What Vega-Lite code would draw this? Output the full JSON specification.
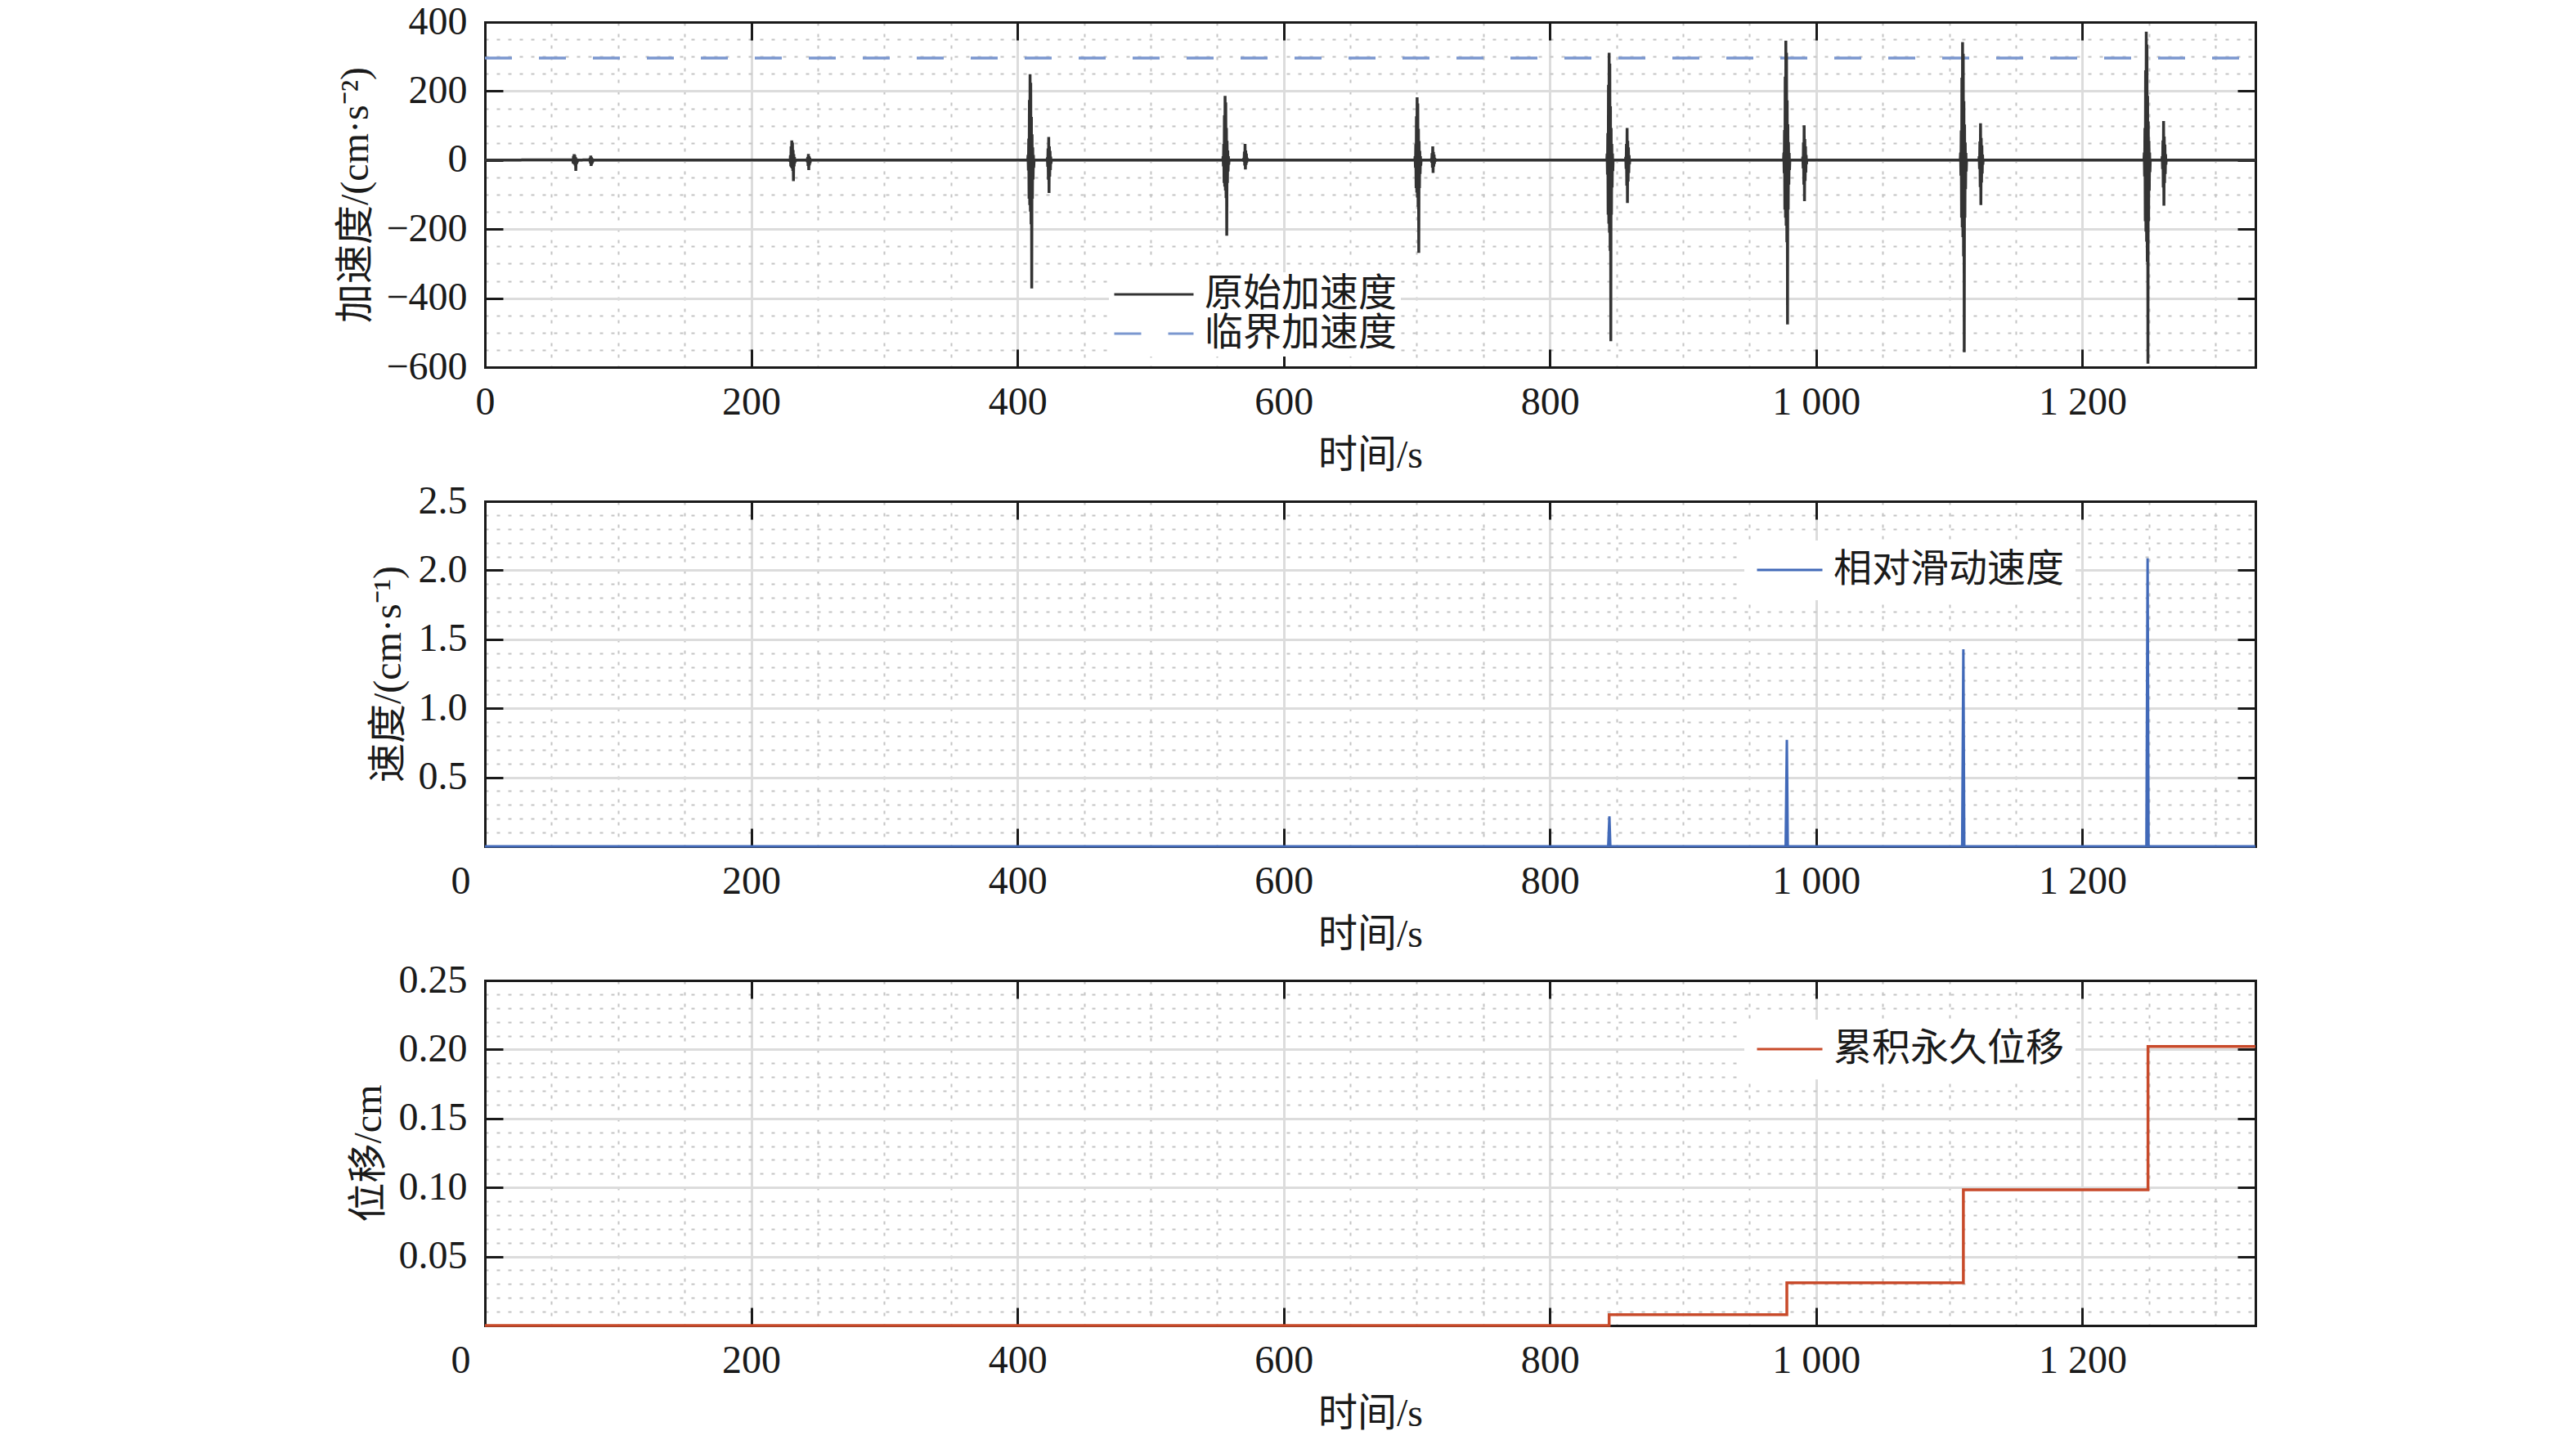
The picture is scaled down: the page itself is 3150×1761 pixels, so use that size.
{
  "$schema": "https://vega.github.io/schema/vega-lite/v6.json",
  "padding": {"left": 411, "top": 3, "right": 0, "bottom": 0},
  "background": "white",
  "datasets": {
    "thr": [{"t": 0, "a": 296}, {"t": 1330, "a": 296}],
    "acc": [
      {"t": 0, "a": 0},
      {"t": 65.5, "a": 1}, {"t": 65.75, "a": -2}, {"t": 66, "a": 4}, {"t": 66.25, "a": -9}, {"t": 66.5, "a": 12}, {"t": 66.75, "a": -11}, {"t": 67, "a": 17}, {"t": 67.25, "a": -12}, {"t": 67.5, "a": 15}, {"t": 67.75, "a": -16}, {"t": 68, "a": 9}, {"t": 68.25, "a": -31}, {"t": 68.5, "a": 5}, {"t": 68.75, "a": -9}, {"t": 69, "a": 3}, {"t": 69.25, "a": -5}, {"t": 69.5, "a": 1}, {"t": 69.75, "a": -2}, {"t": 70, "a": 0},
      {"t": 78.5, "a": 1}, {"t": 78.75, "a": -3}, {"t": 79, "a": 7}, {"t": 79.25, "a": -10}, {"t": 79.5, "a": 13}, {"t": 79.75, "a": -17}, {"t": 80, "a": 8}, {"t": 80.25, "a": -9}, {"t": 80.5, "a": 5}, {"t": 80.75, "a": -5}, {"t": 81, "a": 2}, {"t": 81.25, "a": -2}, {"t": 81.5, "a": 0},
      {"t": 228.75, "a": 0}, {"t": 229, "a": 3}, {"t": 229.25, "a": -5}, {"t": 229.5, "a": 14}, {"t": 229.75, "a": -18}, {"t": 230, "a": 40}, {"t": 230.25, "a": -21}, {"t": 230.5, "a": 57}, {"t": 230.75, "a": -24}, {"t": 231, "a": 51}, {"t": 231.25, "a": -31}, {"t": 231.5, "a": 29}, {"t": 231.75, "a": -61}, {"t": 232, "a": 17}, {"t": 232.25, "a": -18}, {"t": 232.5, "a": 9}, {"t": 232.75, "a": -9}, {"t": 233, "a": 3}, {"t": 233.25, "a": -4}, {"t": 233.5, "a": 0},
      {"t": 241.75, "a": 0}, {"t": 242, "a": 2}, {"t": 242.25, "a": -6}, {"t": 242.5, "a": 9}, {"t": 242.75, "a": -17}, {"t": 243, "a": 18}, {"t": 243.25, "a": -29}, {"t": 243.5, "a": 11}, {"t": 243.75, "a": -15}, {"t": 244, "a": 7}, {"t": 244.25, "a": -9}, {"t": 244.5, "a": 3}, {"t": 244.75, "a": -3}, {"t": 245, "a": 0},
      {"t": 407.75, "a": 0}, {"t": 408, "a": 15}, {"t": 408.25, "a": -30}, {"t": 408.5, "a": 62}, {"t": 408.75, "a": -112}, {"t": 409, "a": 174}, {"t": 409.25, "a": -130}, {"t": 409.5, "a": 249}, {"t": 409.75, "a": -149}, {"t": 410, "a": 224}, {"t": 410.25, "a": -186}, {"t": 410.5, "a": 125}, {"t": 410.75, "a": -372}, {"t": 411, "a": 75}, {"t": 411.25, "a": -112}, {"t": 411.5, "a": 37}, {"t": 411.75, "a": -56}, {"t": 412, "a": 15}, {"t": 412.25, "a": -22}, {"t": 412.5, "a": 0},
      {"t": 422.25, "a": 0}, {"t": 422.5, "a": 7}, {"t": 422.75, "a": -19}, {"t": 423, "a": 34}, {"t": 423.25, "a": -57}, {"t": 423.5, "a": 67}, {"t": 423.75, "a": -95}, {"t": 424, "a": 40}, {"t": 424.25, "a": -48}, {"t": 424.5, "a": 27}, {"t": 424.75, "a": -29}, {"t": 425, "a": 10}, {"t": 425.25, "a": -10}, {"t": 425.5, "a": 0},
      {"t": 554.25, "a": 0}, {"t": 554.5, "a": 11}, {"t": 554.75, "a": -18}, {"t": 555, "a": 47}, {"t": 555.25, "a": -66}, {"t": 555.5, "a": 130}, {"t": 555.75, "a": -77}, {"t": 556, "a": 186}, {"t": 556.25, "a": -88}, {"t": 556.5, "a": 167}, {"t": 556.75, "a": -110}, {"t": 557, "a": 93}, {"t": 557.25, "a": -219}, {"t": 557.5, "a": 56}, {"t": 557.75, "a": -66}, {"t": 558, "a": 28}, {"t": 558.25, "a": -33}, {"t": 558.5, "a": 11}, {"t": 558.75, "a": -13}, {"t": 559, "a": 0},
      {"t": 569.75, "a": 0}, {"t": 570, "a": 5}, {"t": 570.25, "a": -5}, {"t": 570.5, "a": 24}, {"t": 570.75, "a": -16}, {"t": 571, "a": 47}, {"t": 571.25, "a": -27}, {"t": 571.5, "a": 28}, {"t": 571.75, "a": -14}, {"t": 572, "a": 19}, {"t": 572.25, "a": -8}, {"t": 572.5, "a": 7}, {"t": 572.75, "a": -3}, {"t": 573, "a": 0},
      {"t": 698.5, "a": 0}, {"t": 698.75, "a": 11}, {"t": 699, "a": -22}, {"t": 699.25, "a": 46}, {"t": 699.5, "a": -81}, {"t": 699.75, "a": 127}, {"t": 700, "a": -94}, {"t": 700.25, "a": 182}, {"t": 700.5, "a": -108}, {"t": 700.75, "a": 164}, {"t": 701, "a": -135}, {"t": 701.25, "a": 91}, {"t": 701.5, "a": -269}, {"t": 701.75, "a": 55}, {"t": 702, "a": -81}, {"t": 702.25, "a": 27}, {"t": 702.5, "a": -40}, {"t": 702.75, "a": 11}, {"t": 703, "a": -16}, {"t": 703.25, "a": 0},
      {"t": 710.75, "a": 0}, {"t": 711, "a": 4}, {"t": 711.25, "a": -7}, {"t": 711.5, "a": 20}, {"t": 711.75, "a": -22}, {"t": 712, "a": 40}, {"t": 712.25, "a": -37}, {"t": 712.5, "a": 24}, {"t": 712.75, "a": -19}, {"t": 713, "a": 16}, {"t": 713.25, "a": -11}, {"t": 713.5, "a": 6}, {"t": 713.75, "a": -4}, {"t": 714, "a": 0},
      {"t": 842.75, "a": 0}, {"t": 843, "a": 19}, {"t": 843.25, "a": -42}, {"t": 843.5, "a": 78}, {"t": 843.75, "a": -158}, {"t": 844, "a": 218}, {"t": 844.25, "a": -184}, {"t": 844.5, "a": 311}, {"t": 844.75, "a": -210}, {"t": 845, "a": 280}, {"t": 845.25, "a": -263}, {"t": 845.5, "a": 156}, {"t": 845.75, "a": -525}, {"t": 846, "a": 93}, {"t": 846.25, "a": -158}, {"t": 846.5, "a": 47}, {"t": 846.75, "a": -79}, {"t": 847, "a": 19}, {"t": 847.25, "a": -32}, {"t": 847.5, "a": 0},
      {"t": 856.75, "a": 0}, {"t": 857, "a": 9}, {"t": 857.25, "a": -25}, {"t": 857.5, "a": 47}, {"t": 857.75, "a": -74}, {"t": 858, "a": 93}, {"t": 858.25, "a": -124}, {"t": 858.5, "a": 56}, {"t": 858.75, "a": -62}, {"t": 859, "a": 37}, {"t": 859.25, "a": -37}, {"t": 859.5, "a": 14}, {"t": 859.75, "a": -12}, {"t": 860, "a": 0},
      {"t": 975.5, "a": 0}, {"t": 975.75, "a": 21}, {"t": 976, "a": -38}, {"t": 976.25, "a": 87}, {"t": 976.5, "a": -143}, {"t": 976.75, "a": 242}, {"t": 977, "a": -167}, {"t": 977.25, "a": 346}, {"t": 977.5, "a": -190}, {"t": 977.75, "a": 311}, {"t": 978, "a": -238}, {"t": 978.25, "a": 173}, {"t": 978.5, "a": -476}, {"t": 978.75, "a": 104}, {"t": 979, "a": -143}, {"t": 979.25, "a": 52}, {"t": 979.5, "a": -71}, {"t": 979.75, "a": 21}, {"t": 980, "a": -29}, {"t": 980.25, "a": 0},
      {"t": 989.75, "a": 0}, {"t": 990, "a": 10}, {"t": 990.25, "a": -24}, {"t": 990.5, "a": 51}, {"t": 990.75, "a": -71}, {"t": 991, "a": 101}, {"t": 991.25, "a": -119}, {"t": 991.5, "a": 61}, {"t": 991.75, "a": -60}, {"t": 992, "a": 40}, {"t": 992.25, "a": -36}, {"t": 992.5, "a": 15}, {"t": 992.75, "a": -12}, {"t": 993, "a": 0},
      {"t": 1108.25, "a": 0}, {"t": 1108.5, "a": 21}, {"t": 1108.75, "a": -45}, {"t": 1109, "a": 86}, {"t": 1109.25, "a": -167}, {"t": 1109.5, "a": 239}, {"t": 1109.75, "a": -195}, {"t": 1110, "a": 342}, {"t": 1110.25, "a": -223}, {"t": 1110.5, "a": 308}, {"t": 1110.75, "a": -279}, {"t": 1111, "a": 171}, {"t": 1111.25, "a": -557}, {"t": 1111.5, "a": 103}, {"t": 1111.75, "a": -167}, {"t": 1112, "a": 51}, {"t": 1112.25, "a": -84}, {"t": 1112.5, "a": 21}, {"t": 1112.75, "a": -33}, {"t": 1113, "a": 0},
      {"t": 1122.25, "a": 0}, {"t": 1122.5, "a": 11}, {"t": 1122.75, "a": -26}, {"t": 1123, "a": 54}, {"t": 1123.25, "a": -78}, {"t": 1123.5, "a": 107}, {"t": 1123.75, "a": -130}, {"t": 1124, "a": 64}, {"t": 1124.25, "a": -65}, {"t": 1124.5, "a": 43}, {"t": 1124.75, "a": -39}, {"t": 1125, "a": 16}, {"t": 1125.25, "a": -13}, {"t": 1125.5, "a": 0},
      {"t": 1246.25, "a": 0}, {"t": 1246.5, "a": 22}, {"t": 1246.75, "a": -47}, {"t": 1247, "a": 93}, {"t": 1247.25, "a": -177}, {"t": 1247.5, "a": 260}, {"t": 1247.75, "a": -207}, {"t": 1248, "a": 372}, {"t": 1248.25, "a": -236}, {"t": 1248.5, "a": 335}, {"t": 1248.75, "a": -295}, {"t": 1249, "a": 186}, {"t": 1249.25, "a": -590}, {"t": 1249.5, "a": 112}, {"t": 1249.75, "a": -177}, {"t": 1250, "a": 56}, {"t": 1250.25, "a": -89}, {"t": 1250.5, "a": 22}, {"t": 1250.75, "a": -35}, {"t": 1251, "a": 0},
      {"t": 1259.75, "a": 0}, {"t": 1260, "a": 11}, {"t": 1260.25, "a": -26}, {"t": 1260.5, "a": 57}, {"t": 1260.75, "a": -79}, {"t": 1261, "a": 113}, {"t": 1261.25, "a": -132}, {"t": 1261.5, "a": 68}, {"t": 1261.75, "a": -66}, {"t": 1262, "a": 45}, {"t": 1262.25, "a": -40}, {"t": 1262.5, "a": 17}, {"t": 1262.75, "a": -13}, {"t": 1263, "a": 0},
      {"t": 1330, "a": 0}
    ],
    "vel": [
      {"t": 0, "v": 0}, {"t": 843.8, "v": 0}, {"t": 844.7, "v": 0.217}, {"t": 845.4, "v": 0},
      {"t": 977.1, "v": 0}, {"t": 978, "v": 0.772}, {"t": 978.7, "v": 0},
      {"t": 1109.7, "v": 0}, {"t": 1110.6, "v": 1.427}, {"t": 1111.3, "v": 0},
      {"t": 1248.1, "v": 0}, {"t": 1249, "v": 2.087}, {"t": 1249.7, "v": 0},
      {"t": 1330, "v": 0}
    ],
    "disp": [
      {"t": 0, "d": 0}, {"t": 844.5, "d": 0.0079}, {"t": 978, "d": 0.0309},
      {"t": 1110.6, "d": 0.0984}, {"t": 1249.3, "d": 0.2022}, {"t": 1330, "d": 0.2022}
    ]
  },
  "spacing": 8,
  "resolve": {
    "scale": {"color": "independent", "strokeDash": "independent"},
    "legend": {"color": "independent", "strokeDash": "independent"}
  },
  "vconcat": [
    {
      "width": 2165,
      "height": 422,
      "resolve": {"axis": {"x": "independent", "y": "independent"}},
      "layer": [
        {
          "data": {"name": "thr"},
          "mark": {"type": "line", "opacity": 0},
          "encoding": {
            "x": {"field": "t", "type": "quantitative", "scale": {"domain": [0, 1330], "nice": false, "zero": false},
              "axis": {"orient": "bottom", "values": [50, 100, 150, 200, 250, 300, 350, 400, 450, 500, 550, 600, 650, 700, 750, 800, 850, 900, 950, 1000, 1050, 1100, 1150, 1200, 1250, 1300],
                "grid": true, "gridColor": "#c4c4c4", "gridDash": [4, 10], "gridWidth": 2, "ticks": false, "labels": false, "domain": false, "title": null}},
            "y": {"field": "a", "type": "quantitative", "scale": {"domain": [-600, 400], "nice": false, "zero": false},
              "axis": {"orient": "left", "values": [-550, -500, -450, -400, -350, -300, -250, -200, -150, -100, -50, 0, 50, 100, 150, 200, 250, 300, 350],
                "grid": true, "gridColor": "#c4c4c4", "gridDash": [4, 10], "gridWidth": 2, "ticks": false, "labels": false, "domain": false, "title": null}}
          }
        },
        {
          "data": {"name": "thr"},
          "mark": {"type": "line", "opacity": 0},
          "encoding": {
            "x": {"field": "t", "type": "quantitative",
              "axis": {"orient": "bottom", "values": [0, 200, 400, 600, 800, 1000, 1200], "grid": true,
                "gridOpacity": {"condition": {"test": "datum.value == 0", "value": 0}, "value": 1},
                "labelFlush": false,
                "tickSize": -22, "labelPadding": 41, "labelExpr": "replace(format(datum.value, ','), ',', ' ')",
                "title": "时间/s", "titlePadding": 17}},
            "y": {"field": "a", "type": "quantitative",
              "axis": {"orient": "left", "values": [-600, -400, -200, 0, 200, 400], "grid": true,
                "gridOpacity": {"condition": {"test": "datum.value == -600 || datum.value == 400", "value": 0}, "value": 1},
                "tickSize": -22, "labelPadding": 44, "title": "加速度/(cm·s⁻²)", "titlePadding": 12}}
          }
        },
        {
          "data": {"name": "thr"},
          "mark": {"type": "line", "opacity": 0},
          "encoding": {
            "x": {"field": "t", "type": "quantitative",
              "axis": {"orient": "top", "values": [0, 200, 400, 600, 800, 1000, 1200], "grid": false, "tickSize": -22, "labels": false, "title": null}},
            "y": {"field": "a", "type": "quantitative",
              "axis": {"orient": "right", "values": [-600, -400, -200, 0, 200, 400], "grid": false, "tickSize": -22, "labels": false, "title": null}}
          }
        },
        {
          "data": {"name": "thr"},
          "mark": {"type": "line", "strokeWidth": 3.5},
          "encoding": {
            "x": {"field": "t", "type": "quantitative", "axis": null},
            "y": {"field": "a", "type": "quantitative", "axis": null},
            "color": {"datum": "临界加速度", "type": "nominal",
              "scale": {"domain": ["原始加速度", "临界加速度"], "range": ["#333333", "#7b97cf"]},
              "legend": {"orient": "none", "legendX": 763, "legendY": 306, "symbolSize": 9409, "padding": 5}},
            "strokeDash": {"datum": "临界加速度", "type": "nominal",
              "scale": {"domain": ["原始加速度", "临界加速度"], "range": [[1, 0], [33, 33]]},
              "legend": {"orient": "none", "legendX": 763, "legendY": 306, "symbolSize": 9409, "padding": 5}}
          }
        },
        {
          "data": {"name": "acc"},
          "mark": {"type": "line", "strokeWidth": 3.5},
          "encoding": {
            "x": {"field": "t", "type": "quantitative", "axis": null},
            "y": {"field": "a", "type": "quantitative", "axis": null},
            "color": {"datum": "原始加速度", "type": "nominal"},
            "strokeDash": {"datum": "原始加速度", "type": "nominal"}
          }
        }
      ]
    },
    {
      "width": 2165,
      "height": 422,
      "resolve": {"axis": {"x": "independent", "y": "independent"}},
      "layer": [
        {
          "data": {"name": "vel"},
          "mark": {"type": "line", "opacity": 0},
          "encoding": {
            "x": {"field": "t", "type": "quantitative", "scale": {"domain": [0, 1330], "nice": false, "zero": false},
              "axis": {"orient": "bottom", "values": [50, 100, 150, 200, 250, 300, 350, 400, 450, 500, 550, 600, 650, 700, 750, 800, 850, 900, 950, 1000, 1050, 1100, 1150, 1200, 1250, 1300],
                "grid": true, "gridColor": "#c4c4c4", "gridDash": [4, 10], "gridWidth": 2, "ticks": false, "labels": false, "domain": false, "title": null}},
            "y": {"field": "v", "type": "quantitative", "scale": {"domain": [0, 2.5], "nice": false},
              "axis": {"orient": "left", "values": [0.1, 0.2, 0.3, 0.4, 0.5, 0.6, 0.7, 0.8, 0.9, 1.0, 1.1, 1.2, 1.3, 1.4, 1.5, 1.6, 1.7, 1.8, 1.9, 2.0, 2.1, 2.2, 2.3, 2.4],
                "grid": true, "gridColor": "#c4c4c4", "gridDash": [4, 10], "gridWidth": 2, "ticks": false, "labels": false, "domain": false, "title": null}}
          }
        },
        {
          "data": {"name": "vel"},
          "mark": {"type": "line", "opacity": 0},
          "encoding": {
            "x": {"field": "t", "type": "quantitative",
              "axis": {"orient": "bottom", "values": [0, 200, 400, 600, 800, 1000, 1200], "grid": true,
                "gridOpacity": {"condition": {"test": "datum.value == 0", "value": 0}, "value": 1},
                "labelFlush": false,
                "labelOffset": {"condition": {"test": "datum.value == 0", "value": -30}, "value": 0},
                "tickSize": -22, "labelPadding": 41,
                "labelExpr": "replace(format(datum.value, ','), ',', ' ')",
                "title": "时间/s", "titlePadding": 17}},
            "y": {"field": "v", "type": "quantitative",
              "axis": {"orient": "left", "values": [0.5, 1.0, 1.5, 2.0, 2.5], "format": ".1f", "grid": true,
                "gridOpacity": {"condition": {"test": "datum.value > 2.4", "value": 0}, "value": 1},
                "tickSize": -22, "labelPadding": 44, "title": "速度/(cm·s⁻¹)", "titlePadding": 12}}
          }
        },
        {
          "data": {"name": "vel"},
          "mark": {"type": "line", "opacity": 0},
          "encoding": {
            "x": {"field": "t", "type": "quantitative",
              "axis": {"orient": "top", "values": [0, 200, 400, 600, 800, 1000, 1200], "grid": false, "tickSize": -22, "labels": false, "title": null}},
            "y": {"field": "v", "type": "quantitative",
              "axis": {"orient": "right", "values": [0.5, 1.0, 1.5, 2.0, 2.5], "grid": false, "tickSize": -22, "labels": false, "title": null}}
          }
        },
        {
          "data": {"name": "vel"},
          "mark": {"type": "line", "strokeWidth": 3},
          "encoding": {
            "x": {"field": "t", "type": "quantitative", "axis": null},
            "y": {"field": "v", "type": "quantitative", "axis": null},
            "color": {"datum": "相对滑动速度", "type": "nominal",
              "scale": {"domain": ["相对滑动速度"], "range": ["#4169b8"]},
              "legend": {"orient": "none", "legendX": 1540, "legendY": 48, "symbolSize": 6400, "padding": 14}}
          }
        }
      ]
    },
    {
      "width": 2165,
      "height": 422,
      "resolve": {"axis": {"x": "independent", "y": "independent"}},
      "layer": [
        {
          "data": {"name": "disp"},
          "mark": {"type": "line", "opacity": 0},
          "encoding": {
            "x": {"field": "t", "type": "quantitative", "scale": {"domain": [0, 1330], "nice": false, "zero": false},
              "axis": {"orient": "bottom", "values": [50, 100, 150, 200, 250, 300, 350, 400, 450, 500, 550, 600, 650, 700, 750, 800, 850, 900, 950, 1000, 1050, 1100, 1150, 1200, 1250, 1300],
                "grid": true, "gridColor": "#c4c4c4", "gridDash": [4, 10], "gridWidth": 2, "ticks": false, "labels": false, "domain": false, "title": null}},
            "y": {"field": "d", "type": "quantitative", "scale": {"domain": [0, 0.25], "nice": false},
              "axis": {"orient": "left", "values": [0.01, 0.02, 0.03, 0.04, 0.05, 0.06, 0.07, 0.08, 0.09, 0.1, 0.11, 0.12, 0.13, 0.14, 0.15, 0.16, 0.17, 0.18, 0.19, 0.2, 0.21, 0.22, 0.23, 0.24],
                "grid": true, "gridColor": "#c4c4c4", "gridDash": [4, 10], "gridWidth": 2, "ticks": false, "labels": false, "domain": false, "title": null}}
          }
        },
        {
          "data": {"name": "disp"},
          "mark": {"type": "line", "opacity": 0},
          "encoding": {
            "x": {"field": "t", "type": "quantitative",
              "axis": {"orient": "bottom", "values": [0, 200, 400, 600, 800, 1000, 1200], "grid": true,
                "gridOpacity": {"condition": {"test": "datum.value == 0", "value": 0}, "value": 1},
                "labelFlush": false,
                "labelOffset": {"condition": {"test": "datum.value == 0", "value": -30}, "value": 0},
                "tickSize": -22, "labelPadding": 41,
                "labelExpr": "replace(format(datum.value, ','), ',', ' ')",
                "title": "时间/s", "titlePadding": 17}},
            "y": {"field": "d", "type": "quantitative",
              "axis": {"orient": "left", "values": [0.05, 0.1, 0.15, 0.2, 0.25], "format": ".2f", "grid": true,
                "gridOpacity": {"condition": {"test": "datum.value > 0.24", "value": 0}, "value": 1},
                "tickSize": -22, "labelPadding": 44, "title": "位移/cm", "titlePadding": 12}}
          }
        },
        {
          "data": {"name": "disp"},
          "mark": {"type": "line", "opacity": 0},
          "encoding": {
            "x": {"field": "t", "type": "quantitative",
              "axis": {"orient": "top", "values": [0, 200, 400, 600, 800, 1000, 1200], "grid": false, "tickSize": -22, "labels": false, "title": null}},
            "y": {"field": "d", "type": "quantitative",
              "axis": {"orient": "right", "values": [0.05, 0.1, 0.15, 0.2, 0.25], "grid": false, "tickSize": -22, "labels": false, "title": null}}
          }
        },
        {
          "data": {"name": "disp"},
          "mark": {"type": "line", "strokeWidth": 3.5, "interpolate": "step-after"},
          "encoding": {
            "x": {"field": "t", "type": "quantitative", "axis": null},
            "y": {"field": "d", "type": "quantitative", "axis": null},
            "color": {"datum": "累积永久位移", "type": "nominal",
              "scale": {"domain": ["累积永久位移"], "range": ["#c84a2a"]},
              "legend": {"orient": "none", "legendX": 1540, "legendY": 48, "symbolSize": 6400, "padding": 14}}
          }
        }
      ]
    }
  ],
  "config": {
    "font": "Liberation Serif, Noto Sans CJK SC",
    "view": {"stroke": null},
    "axis": {
      "labelFont": "Liberation Serif, Noto Sans CJK SC",
      "labelFontSize": 48,
      "labelColor": "#1a1a1a",
      "titleFont": "Liberation Serif, Noto Sans CJK SC",
      "titleFontSize": 48,
      "titleFontWeight": "normal",
      "titleColor": "#1a1a1a",
      "domainColor": "#1a1a1a",
      "domainWidth": 3,
      "domainCap": "square",
      "tickColor": "#1a1a1a",
      "tickWidth": 3,
      "gridColor": "#dcdcdc",
      "gridWidth": 3
    },
    "legend": {
      "title": null,
      "labelFont": "Liberation Serif, Noto Sans CJK SC",
      "labelFontSize": 47,
      "labelColor": "#1a1a1a",
      "labelLimit": 0,
      "labelOffset": 12,
      "clipHeight": 44,
      "symbolType": "stroke",
      "symbolStrokeWidth": 3,
      "fillColor": "white",
      "rowPadding": 1
    }
  }
}
